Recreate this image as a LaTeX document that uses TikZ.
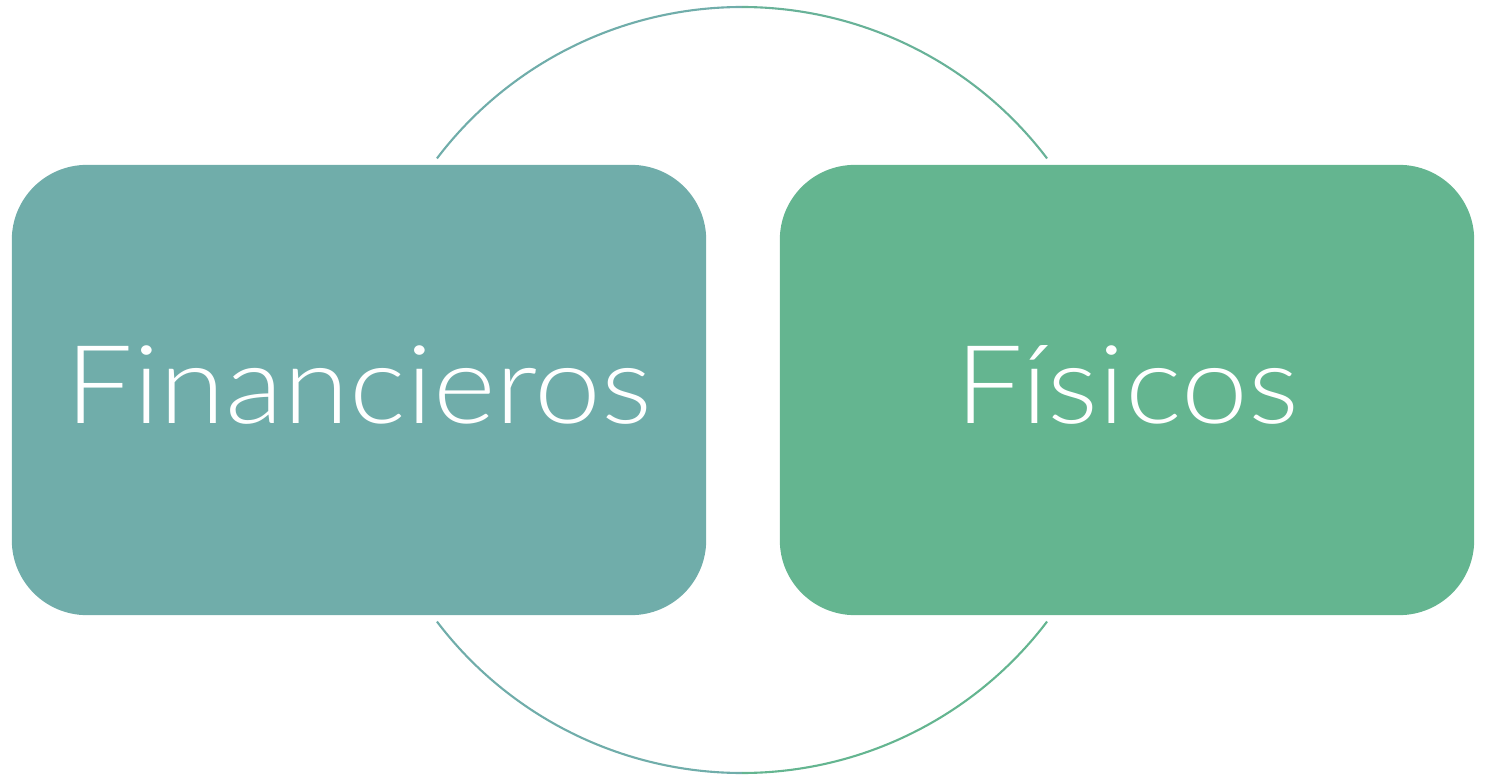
\documentclass[tikz,border=0pt]{standalone}
\usepackage{fontspec}
\setmainfont{Lato Light}[FakeStretch=1.1]
\usetikzlibrary{calc,positioning}
\definecolor{tealbox}{RGB}{112,173,170}
\definecolor{greenbox}{RGB}{100,181,144}

\begin{document}
\begin{tikzpicture}[x=0.01cm,y=0.01cm,
   card/.style={rounded corners=0.75cm,minimum width=6.94cm,minimum height=4.50cm,
      inner sep=0pt,text=white,text depth=0.1cm,font=\fontsize{31}{31}\selectfont},
   ring/.style={line width=0.6pt}]

   \useasboundingbox (0,0) rectangle (1496,778);

   % the ring behind the two cards
   \coordinate (mid) at (742,388);
   \draw[ring,tealbox] ($(mid)+(142.8:383)$) arc (142.8:90:383);
   \draw[ring,greenbox!70!tealbox] ($(mid)+(90:383)$) arc (90:37.2:383);
   \draw[ring,tealbox] ($(mid)+(217.2:383)$) arc (217.2:270:383);
   \draw[ring,greenbox] ($(mid)+(270:383)$) arc (270:322.8:383);

   % the two cards
   \node[card,fill=tealbox] (fin) at (359,388) {Financieros};
   \node[card,fill=greenbox] (fis) at (1127,388) {Físicos};

\end{tikzpicture}
\end{document}
